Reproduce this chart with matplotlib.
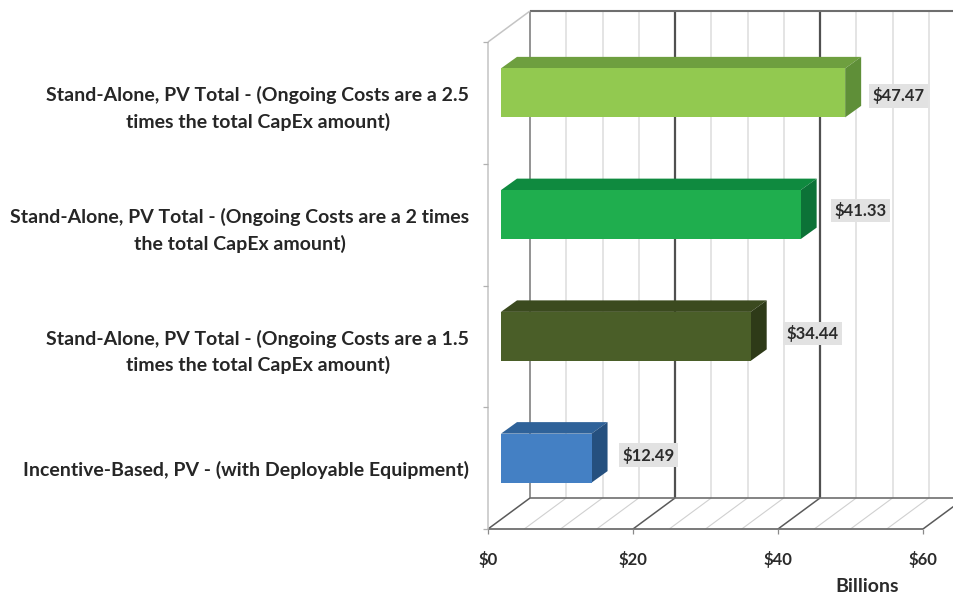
import matplotlib
matplotlib.use('Agg')
import matplotlib.pyplot as plt
import numpy as np

plt.rcParams['font.family'] = ['Lato', 'DejaVu Sans']

categories = [
    'Incentive-Based, PV - (with Deployable Equipment)',
    'Stand-Alone, PV Total - (Ongoing Costs are a 1.5\ntimes the total CapEx amount)',
    'Stand-Alone, PV Total - (Ongoing Costs are a 2 times\nthe total CapEx amount)',
    'Stand-Alone, PV Total - (Ongoing Costs are a 2.5\ntimes the total CapEx amount)',
]
values = [12.49, 34.44, 41.33, 47.47]
value_labels = ['$12.49', '$34.44', '$41.33', '$47.47']
x_ticks = [0, 20, 40, 60]
x_tick_labels = ['$0', '$20', '$40', '$60']
minor_x = [5, 10, 15, 25, 30, 35, 45, 50, 55]

front_colors = ['#4480C4', '#4A5E28', '#1FAE4E', '#92C950']
top_colors = ['#2F6299', '#3B4A1F', '#0F8A3F', '#6E9F3F']
side_colors = ['#25507F', '#2E3A18', '#0C7237', '#5F8F38']

W, H = 954, 597
fig = plt.figure(figsize=(W / 100, H / 100), dpi=100)
# axes is the front plane of the fake 3d box
L, R, T, B = 488, 923, 42, 529
ax = fig.add_axes([L / W, 1 - B / H, (R - L) / W, (B - T) / H])
ax.set_xlim(0, 60)
ax.set_ylim(0, 4)
for s in ax.spines.values():
    s.set_visible(False)

# pixels to data units
px = 60 / (R - L)
py = 4 / (B - T)
depth_x = 42 * px
depth_y = 31 * py


def box_line(x0, y0, x1, y1, color, lw, z=1):
    ax.plot([x0, x1], [y0, y1], color=color, lw=lw, zorder=z, clip_on=False,
            solid_capstyle='butt')


# back wall and floor grid
for v in minor_x:
    box_line(v + depth_x, depth_y, v + depth_x, 4 + depth_y, '#dcdcdc', 1.1)
    box_line(v, 0, v + depth_x, depth_y, '#d0d0d0', 0.8)
for v in x_ticks:
    c = '#8a8a8a' if v == 0 else '#505050'
    lw = 1.3 if v == 0 else 1.6
    box_line(v + depth_x, depth_y, v + depth_x, 4 + depth_y, c, lw)
    box_line(v, 0, v + depth_x, depth_y, '#5a5a5a', 1.1)
box_line(depth_x, 4 + depth_y, 66, 4 + depth_y, '#6e6e6e', 1.5)
box_line(depth_x, depth_y, 66, depth_y, '#6e6e6e', 1.2)
box_line(0, 0, 60, 0, '#6e6e6e', 1.3)
box_line(0, 0, 0, 4, '#c4c4c4', 1.1)
box_line(0, 4, depth_x, 4 + depth_y, '#c4c4c4', 1.1)

# bars
bar_dx = 13 * px
bar_dy = 10 * py
bar_h = 49 * py
top_x = 16 * px
top_y = 11.5 * py
centers = np.arange(len(values)) + 0.5
for i, v in enumerate(values):
    y0 = centers[i] + bar_dy - bar_h / 2
    y1 = y0 + bar_h
    x0 = bar_dx
    x1 = bar_dx + v
    ax.barh(y0 + bar_h / 2, v, left=x0, height=bar_h, color=front_colors[i], zorder=4, clip_on=False)
    ax.fill([x0, x0 + top_x, x1 + top_x, x1], [y1, y1 + top_y, y1 + top_y, y1],
            color=top_colors[i], lw=0, zorder=3, clip_on=False)
    ax.fill([x1, x1 + top_x, x1 + top_x, x1], [y0, y0 + top_y, y1 + top_y, y1],
            color=side_colors[i], lw=0, zorder=3, clip_on=False)

# value labels, gaps are not the same on every bar in the original
label_gap = [57, 62, 60, 53]
label_lift = [13, 13, 14, 7]
for i, v in enumerate(values):
    ax.annotate(value_labels[i], (v, centers[i]), xytext=(label_gap[i] / 1.389 + 13 / 1.389, label_lift[i] / 1.389),
                textcoords='offset points', ha='center', va='center', fontsize=12,
                fontweight='bold', color='#2b2b2b', zorder=6,
                bbox=dict(facecolor='#e2e2e2', edgecolor='none', pad=2.4))

# axis ticks and text
ax.set_xticks(x_ticks)
ax.set_xticklabels(x_tick_labels, fontsize=12, fontweight='bold', color='#2b2b2b')
ax.tick_params(axis='x', length=3.5, width=0.9, color='#8a8a8a', pad=12)
ax.set_yticks(centers)
ax.set_yticklabels(categories, fontsize=14, fontweight='bold', color='#262626',
                   multialignment='center', linespacing=1.55)
ax.tick_params(axis='y', which='major', length=0, pad=13.5)
ax.set_yticks(np.arange(0, 5), minor=True)
ax.tick_params(axis='y', which='minor', length=3.5, width=0.9, color='#b0b0b0')
ax.set_xlabel('Billions', fontsize=14, fontweight='bold', color='#2b2b2b')
ax.xaxis.set_label_coords((867 - L) / (R - L), (B - 587) / (B - T))
ax.xaxis.label.set_va('center')

fig.savefig('out.png', dpi=100)
